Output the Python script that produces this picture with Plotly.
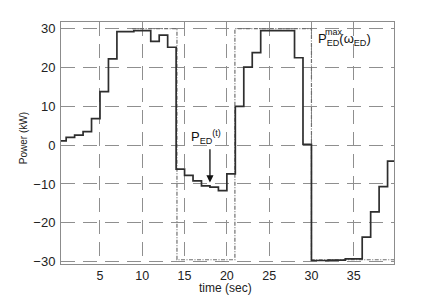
import plotly.graph_objects as go

# Stepwise electric-drive power P_ED(t) (kW)
t_ped = [0.39, 1, 2, 3, 4, 5, 6, 7, 9, 11, 12, 13, 14, 15, 16, 17, 18, 19, 20,
         21, 22, 23, 24, 28, 29, 30, 32, 34, 36, 37, 38, 39, 39.76]
p_ped = [1.1, 2.0, 2.6, 3.5, 6.8, 13.8, 22.2, 29.2, 29.5, 26.7, 28.3, 25.2,
         -6.2, -7.8, -9.2, -10.5, -10.8, -11.7, -7.4, 10.0, 20.1, 23.8, 29.5,
         22.5, 0.2, -29.7, -29.6, -29.3, -23.7, -17.2, -10.7, -4.1, -4.1]

# Power limit P_ED^max(w_ED) (kW)
t_max = [8.8, 14.1, 14.1, 20.95, 20.95, 30.0, 30.0, 39.76]
p_max = [30.0, 30.0, -29.5, -29.5, 30.0, 30.0, -29.5, -29.5]

x_ticks = [5, 10, 15, 20, 25, 30, 35]
y_ticks = [-30, -20, -10, 0, 10, 20, 30]

FONT = "Liberation Sans, Arial, Helvetica, sans-serif"

fig = go.Figure()
fig.add_trace(go.Scatter(x=t_max, y=p_max, mode="lines",
                         line=dict(color="#707070", width=1.2, dash="4px,1.5px,1px,1.5px"),
                         hoverinfo="skip", showlegend=False))
fig.add_trace(go.Scatter(x=t_ped, y=p_ped, mode="lines", line_shape="hv",
                         line=dict(color="#2e2e2e", width=1.7),
                         hoverinfo="skip", showlegend=False))

axis_common = dict(showline=True, mirror=True, linecolor="#8c8c8c", linewidth=1,
                   showgrid=True, gridcolor="#8f8f8f", gridwidth=1,
                   griddash="14px,8px", zeroline=False, ticks="", automargin=False)

fig.update_xaxes(range=[0.39, 39.76], tickvals=x_ticks, ticklabelstandoff=0,
                 tickfont=dict(family=FONT, size=12.5, color="#222"), **axis_common)
fig.update_yaxes(range=[-30.6, 31.7], tickvals=y_ticks, ticklabelstandoff=2,
                 tickfont=dict(family=FONT, size=13, color="#222"), **axis_common)

annotations = [
    # axis titles
    dict(text="time (sec)", xref="paper", yref="paper", x=0.495, y=-0.101,
         xanchor="center", yanchor="middle",
         showarrow=False, font=dict(family=FONT, size=12, color="#222")),
    dict(text="Power (kW)", xref="paper", yref="paper", x=-0.1125, y=0.518,
         xanchor="center", yanchor="middle",
         textangle=-90, showarrow=False, font=dict(family=FONT, size=10, color="#222")),
    # P_ED(t) label and arrow
    dict(text="P<sub>ED</sub><sup>(t)</sup>", x=17.5, y=2.1, xref="x", yref="y",
         xanchor="center", yanchor="middle",
         showarrow=False, font=dict(family=FONT, size=13, color="#111")),
    dict(text="", x=18, y=-9.6, ax=18, ay=-0.7, xref="x", yref="y",
         axref="x", ayref="y", showarrow=True, arrowhead=2, arrowsize=1.1,
         arrowwidth=1.3, arrowcolor="#111"),
    # P_ED^max(w_ED) label
    dict(text="P<sub>ED</sub>(ω<sub>ED</sub>)", xref="paper", yref="paper",
         x=(316 - 61) / 333.3, y=(264.3 - 40) / 242, xanchor="left", yanchor="middle",
         showarrow=False, font=dict(family=FONT, size=13, color="#111")),
    dict(text="max", xref="paper", yref="paper",
         x=(323 - 61) / 333.3, y=(264.3 - 32.5) / 242, xanchor="left", yanchor="middle",
         showarrow=False, font=dict(family=FONT, size=9, color="#111")),
]

fig.update_layout(width=433, height=300, template="none",
                  margin=dict(l=61, r=39, t=22, b=36, pad=0),
                  paper_bgcolor="white", plot_bgcolor="white",
                  annotations=annotations, showlegend=False)

fig.write_html("out.html", config={"displayModeBar": False},
               post_script="document.body.style.margin='0px';document.body.style.padding='0px';")
